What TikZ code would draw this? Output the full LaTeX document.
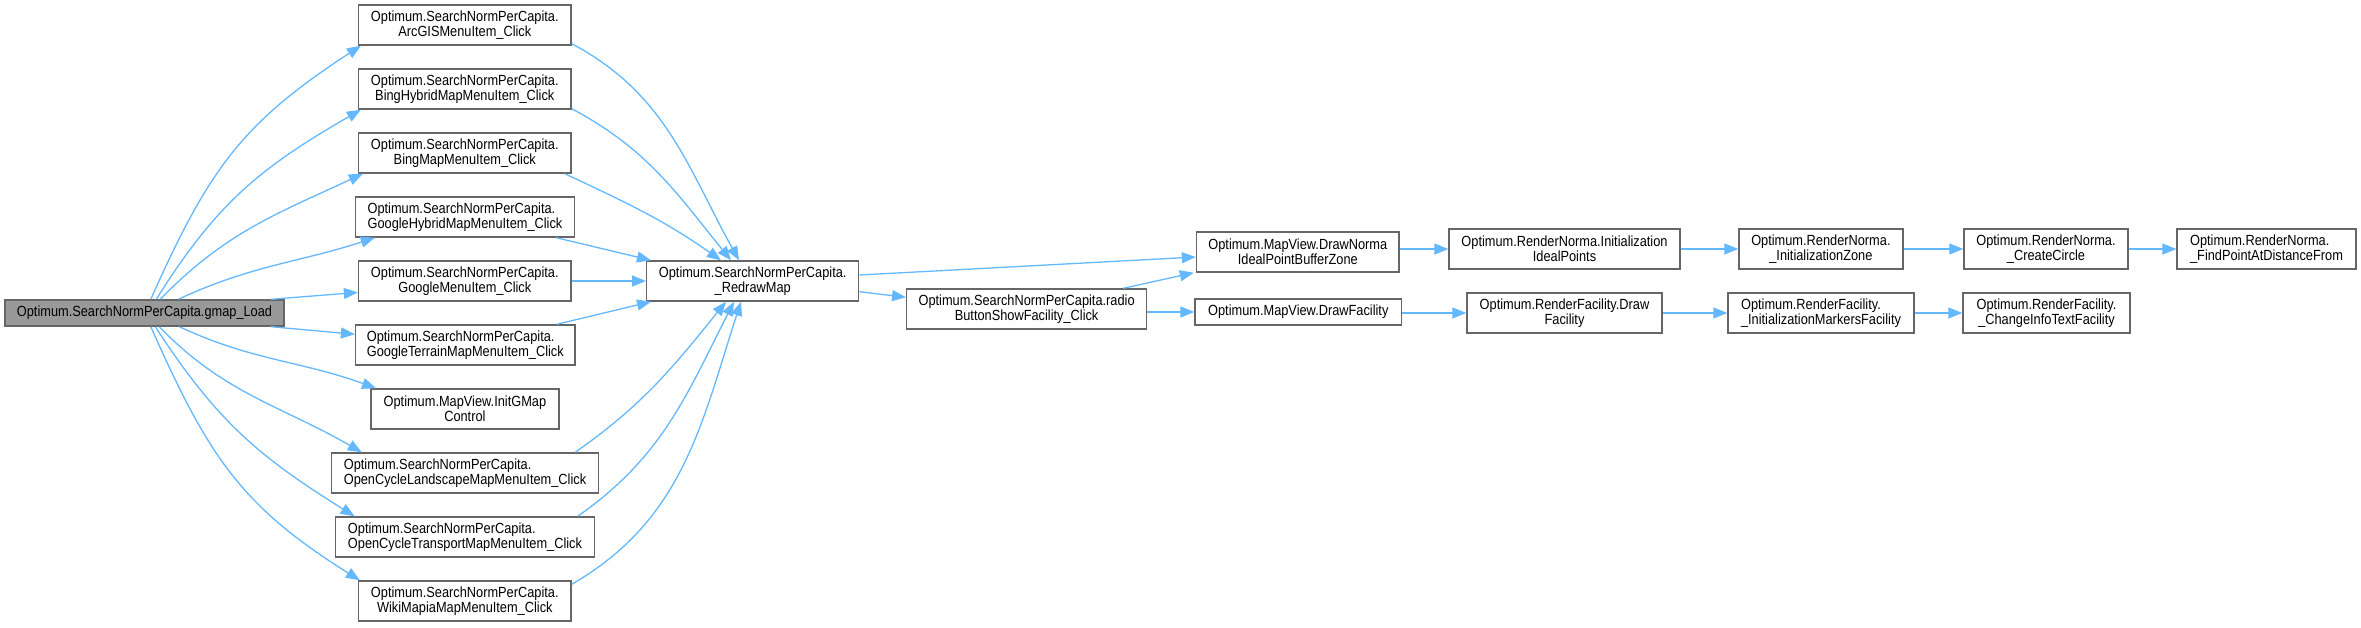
\documentclass[tikz,border=0pt]{standalone}
\usepackage{fontspec}
\setmainfont{Liberation Sans}[FakeStretch=0.87]
\usetikzlibrary{arrows.meta,calc}
\definecolor{edgeblue}{HTML}{63B8FF}
\definecolor{boxline}{HTML}{666666}
\definecolor{boxfill}{HTML}{999999}
\begin{document}
\begin{tikzpicture}[x=0.5pt,y=0.5pt,
  fn/.style={draw=boxline,fill=white,line width=0.7pt,inner sep=0pt,align=center,
    font=\fontsize{7.35}{7.5}\selectfont,minimum height=20pt},
  fnl/.style={fn,align=left},
  cur/.style={fn,fill=boxfill,minimum height=13pt},
  edge/.style={draw=edgeblue,line width=0.65pt,-{Triangle[length=7pt,width=5.5pt]}}]
\useasboundingbox (0,0) rectangle (2361,-627);

% column 1
\node[cur,minimum width=139.5pt] (gmap) at (144.5,-313) {Optimum.SearchNormPerCapita.gmap\_Load};

% column 2
\node[fn,minimum width=106.2pt] (arc) at (464.8,-25) {Optimum.SearchNormPerCapita.\\ArcGISMenuItem\_Click};
\node[fn,minimum width=106.2pt] (bh) at (464.8,-89) {Optimum.SearchNormPerCapita.\\BingHybridMapMenuItem\_Click};
\node[fn,minimum width=106.2pt] (bm) at (464.8,-153) {Optimum.SearchNormPerCapita.\\BingMapMenuItem\_Click};
\node[fnl,minimum width=109.5pt] (gh) at (465,-217) {Optimum.SearchNormPerCapita.\\GoogleHybridMapMenuItem\_Click};
\node[fn,minimum width=106.2pt] (gm) at (464.8,-281) {Optimum.SearchNormPerCapita.\\GoogleMenuItem\_Click};
\node[fnl,minimum width=109.7pt] (gt) at (465.3,-345) {Optimum.SearchNormPerCapita.\\GoogleTerrainMapMenuItem\_Click};
\node[fn,minimum width=94.1pt] (ig) at (464.9,-409) {Optimum.MapView.InitGMap\\Control};
\node[fnl,minimum width=133.5pt] (ocl) at (465,-473) {Optimum.SearchNormPerCapita.\\OpenCycleLandscapeMapMenuItem\_Click};
\node[fnl,minimum width=129.7pt] (oct) at (465,-537) {Optimum.SearchNormPerCapita.\\OpenCycleTransportMapMenuItem\_Click};
\node[fn,minimum width=106.2pt] (wk) at (464.8,-601) {Optimum.SearchNormPerCapita.\\WikiMapiaMapMenuItem\_Click};

% column 3..
\node[fn,minimum width=106pt] (redraw) at (752.7,-281) {Optimum.SearchNormPerCapita.\\\_RedrawMap};
\node[fn,minimum width=119.9pt] (radio) at (1026.6,-309) {Optimum.SearchNormPerCapita.radio\\ButtonShowFacility\_Click};
\node[fn,minimum width=101.3pt] (drawnorma) at (1297.8,-252) {Optimum.MapView.DrawNorma\\IdealPointBufferZone};
\node[fn,minimum width=103.3pt,minimum height=13pt] (drawfac) at (1298.3,-312) {Optimum.MapView.DrawFacility};
\node[fn,minimum width=115.5pt] (initideal) at (1564.5,-249) {Optimum.RenderNorma.Initialization\\IdealPoints};
\node[fn,minimum width=81.9pt] (initzone) at (1820.9,-249) {Optimum.RenderNorma.\\\_InitializationZone};
\node[fn,minimum width=82pt] (circle) at (2046,-249) {Optimum.RenderNorma.\\\_CreateCircle};
\node[fnl,minimum width=89.5pt] (findpt) at (2266.5,-249) {Optimum.RenderNorma.\\\_FindPointAtDistanceFrom};
\node[fn,minimum width=97.5pt] (rfdraw) at (1564.5,-313) {Optimum.RenderFacility.Draw\\Facility};
\node[fnl,minimum width=93pt] (initmark) at (1821,-313) {Optimum.RenderFacility.\\\_InitializationMarkersFacility};
\node[fn,minimum width=83.5pt] (changeinfo) at (2046.5,-313) {Optimum.RenderFacility.\\\_ChangeInfoTextFacility};

% edges from gmap_Load
\draw[edge] ($(gmap.north west)+(146.5,0)$) to[out=66,in=213,looseness=1.1] ($(arc.south west)+(3,0)$);
\draw[edge] ($(gmap.north west)+(152,0)$) to[out=58,in=210,looseness=1.05] ($(bh.south west)+(3,0)$);
\draw[edge] ($(gmap.north west)+(156,0)$) to[out=46,in=205] ($(bm.south west)+(5,0)$);
\draw[edge] ($(gmap.north west)+(174,0)$) to[out=25,in=198] ($(gh.south west)+(20,0)$);
\draw[edge] ($(gmap.north west)+(266.7,0)$) -- ($(gm.south west)+(0,9.3)$);
\draw[edge] ($(gmap.south west)+(266.7,0)$) -- ($(gt.north west)+(0,-10)$);
\draw[edge] ($(gmap.south west)+(175,0)$) to[out=-25,in=160] ($(ig.north west)+(6,0)$);
\draw[edge] ($(gmap.south west)+(155,0)$) to[out=-46,in=150] ($(ocl.north west)+(31,0)$);
\draw[edge] ($(gmap.south west)+(151,0)$) to[out=-57,in=148,looseness=1.05] ($(oct.north west)+(20,0)$);
\draw[edge] ($(gmap.south west)+(146.5,0)$) to[out=-66,in=148,looseness=1.1] ($(wk.north west)+(2,0)$);

% edges into _RedrawMap
\draw[edge] ($(arc.south east)+(0,2)$) to[out=-28,in=119] ($(redraw.north west)+(93,0)$);
\draw[edge] ($(bh.south east)+(0,1)$) to[out=-28,in=129] ($(redraw.north west)+(85,0)$);
\draw[edge] ($(bm.south east)+(-7,0)$) to[out=-25,in=145] ($(redraw.north west)+(75,0)$);
\draw[edge] ($(gh.south east)+(-19,0)$) -- ($(redraw.north west)+(5,0)$);
\draw[edge] (gm.east) -- (redraw.west);
\draw[edge] ($(gt.north east)+(-19,0)$) -- ($(redraw.south west)+(5,0)$);
\draw[edge] ($(ocl.north east)+(-24,0)$) to[out=35,in=231] ($(redraw.south west)+(80,0)$);
\draw[edge] ($(oct.north east)+(-17.7,0)$) to[out=35,in=243] ($(redraw.south west)+(88,0)$);
\draw[edge] ($(wk.north east)+(0,-4)$) to[out=30,in=252] ($(redraw.south west)+(95,0)$);

% remaining edges
\draw[edge] ($(redraw.east)+(0,6)$) -- ($(drawnorma.west)+(0,-5)$);
\draw[edge] ($(redraw.south east)+(0,10)$) -- ($(radio.west)+(0,11.7)$);
\draw[edge] ($(radio.north east)+(-24,0)$) -- ($(drawnorma.south west)+(-2,0)$);
\draw[edge] (radio.east |- drawfac.west) -- (drawfac.west);
\draw[edge] (drawnorma.east |- initideal.west) -- (initideal.west);
\draw[edge] (initideal.east) -- (initzone.west);
\draw[edge] (initzone.east) -- (circle.west);
\draw[edge] (circle.east) -- (findpt.west);
\draw[edge] (drawfac.east |- rfdraw.west) -- (rfdraw.west);
\draw[edge] (rfdraw.east) -- (initmark.west);
\draw[edge] (initmark.east) -- (changeinfo.west);
\end{tikzpicture}
\end{document}
